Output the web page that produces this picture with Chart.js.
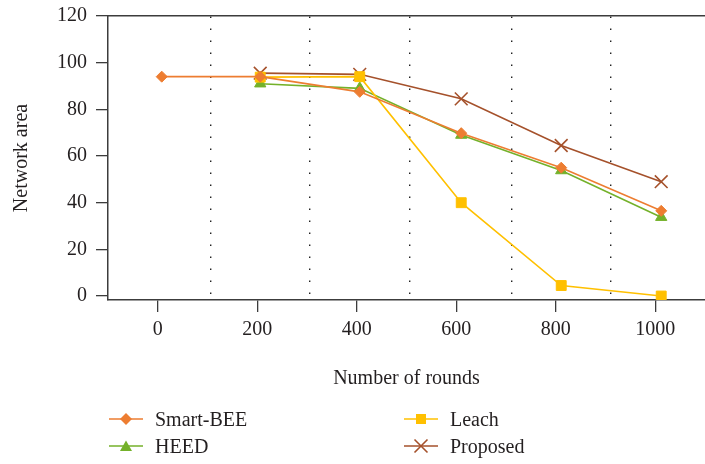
<!DOCTYPE html>
<html>
<head>
<meta charset="utf-8">
<script src="https://cdn.jsdelivr.net/npm/chart.js@4"></script>
<style>
  html, body { margin: 0; padding: 0; background: #fff; }
  #wrap { position: relative; width: 705px; height: 464px; overflow: hidden; }
  .leg { position: absolute; display: flex; align-items: center; font-family: "Liberation Serif", serif; font-size: 20px; color: #231f20; }
  .leg svg { margin-right: 12px; }
</style>
</head>
<body>
<div id="wrap">
  <canvas id="c" width="705" height="464"></canvas>
</div>
<script>
// ---- data ----
const rounds = [8, 206, 406, 610, 811, 1012];
const smartBee = [94, 94, 87.5, 69.8, 55, 36.5];
const heed = [null, 91, 89, 69, 53.8, 33.8];
const leach = [null, 93.8, 94, 40, 4.5, 0];
const proposed = [null, 95.5, 95, 84.5, 64.5, 49];
const xTicks = [0, 200, 400, 600, 800, 1000];
const yTicks = [0, 20, 40, 60, 80, 100, 120];
const xGrid = [107, 305, 507, 711, 911];

const colors = { smart: '#ED7D31', heed: '#74B12A', leach: '#FFC000', proposed: '#A5512B' };
const FONT = { family: '"Liberation Serif", serif', size: 20 };
const AXIS = '#3c3c3c';

function pts(vals) {
  const out = [];
  vals.forEach((v, i) => { if (v !== null) out.push({ x: rounds[i], y: v }); });
  return out;
}

const datasets = [
  { label: 'Smart-BEE', data: pts(smartBee), borderColor: colors.smart, backgroundColor: colors.smart,
    pointStyle: 'rectRot', pointRadius: 5.5, borderWidth: 1.6, pointBorderWidth: 1 },
  { label: 'Leach', data: pts(leach), borderColor: colors.leach, backgroundColor: colors.leach,
    pointStyle: 'rect', pointRadius: 7, borderWidth: 1.6, pointBorderWidth: 1 },
  { label: 'HEED', data: pts(heed), borderColor: colors.heed, backgroundColor: colors.heed,
    pointStyle: 'triangle', pointRadius: 6.5, borderWidth: 1.6, pointBorderWidth: 1 },
  { label: 'Proposed', data: pts(proposed), borderColor: colors.proposed, backgroundColor: colors.proposed,
    pointStyle: 'crossRot', pointRadius: 9, borderWidth: 1.6, pointBorderWidth: 1.6 }
];

function noPad(s) { s.paddingLeft = 0; s.paddingRight = 0; s.paddingTop = 0; s.paddingBottom = 0; }

new Chart(document.getElementById('c'), {
  type: 'line',
  data: { datasets },
  options: {
    responsive: false,
    animation: false,
    layout: { autoPadding: false, padding: { left: 0, right: 0, top: 16, bottom: 73 } },
    plugins: { legend: { display: false }, tooltip: { enabled: false } },
    elements: { line: { tension: 0 } },
    scales: {
      x: {
        type: 'linear', position: 'bottom', min: -100, max: 1100,
        afterBuildTicks: s => { s.ticks = xTicks.map(v => ({ value: v })); },
        afterFit: s => { s.height = 91; noPad(s); },
        grid: { drawOnChartArea: false, drawTicks: true, tickLength: 12, color: AXIS, lineWidth: 1.3 },
        border: { display: true, color: AXIS, width: 1.5 },
        ticks: { font: FONT, color: '#231f20', padding: 6, maxRotation: 0, callback: v => String(v) },
        title: { display: true, text: 'Number of rounds', font: FONT, color: '#231f20', padding: 0 }
      },
      x2: {
        type: 'linear', position: 'top', min: -100, max: 1100,
        afterBuildTicks: s => { s.ticks = xGrid.map(v => ({ value: v })); },
        afterFit: s => { s.height = 0; noPad(s); },
        grid: { drawOnChartArea: true, drawTicks: false, color: '#222', lineWidth: 1.4 },
        border: { display: true, color: AXIS, width: 1.5, dash: [1.4, 10.6] },
        ticks: { display: false }
      },
      y: {
        type: 'linear', position: 'left', min: -1.7, max: 120,
        afterBuildTicks: s => { s.ticks = yTicks.map(v => ({ value: v })); },
        afterFit: s => { s.width = 108; noPad(s); },
        grid: { drawOnChartArea: false, drawTicks: true, tickLength: 12, color: AXIS, lineWidth: 1.3 },
        border: { display: true, color: AXIS, width: 1.5 },
        ticks: { font: FONT, color: '#231f20', padding: 9 },
        title: { display: true, text: 'Network area', font: FONT, color: '#231f20', padding: { top: 10, bottom: 0 } }
      }
    }
  }
});

// ---- legend (HTML, real text) ----
function markerSvg(style, color) {
  let m = '';
  if (style === 'rectRot') m = `<polygon points="17,2 23,8 17,14 11,8" fill="${color}"/>`;
  if (style === 'rect') m = `<rect x="12" y="3" width="10" height="10" fill="${color}"/>`;
  if (style === 'triangle') m = `<polygon points="17,2.5 23,13 11,13" fill="${color}"/>`;
  if (style === 'crossRot') m = `<path d="M10.5,1.5 L23.5,14.5 M23.5,1.5 L10.5,14.5" stroke="${color}" stroke-width="1.6"/>`;
  return `<svg width="34" height="16" viewBox="0 0 34 16"><line x1="0" y1="8" x2="34" y2="8" stroke="${color}" stroke-width="1.6"/>${m}</svg>`;
}
const legendItems = [
  { label: 'Smart-BEE', style: 'rectRot', color: colors.smart, x: 109, y: 419 },
  { label: 'HEED', style: 'triangle', color: colors.heed, x: 109, y: 446 },
  { label: 'Leach', style: 'rect', color: colors.leach, x: 404, y: 419 },
  { label: 'Proposed', style: 'crossRot', color: colors.proposed, x: 404, y: 446 }
];
const wrap = document.getElementById('wrap');
legendItems.forEach(it => {
  const d = document.createElement('div');
  d.className = 'leg';
  d.style.left = it.x + 'px';
  d.style.top = (it.y - 12) + 'px';
  d.style.height = '24px';
  d.innerHTML = markerSvg(it.style, it.color) + '<span>' + it.label + '</span>';
  wrap.appendChild(d);
});
</script>
</body>
</html>
